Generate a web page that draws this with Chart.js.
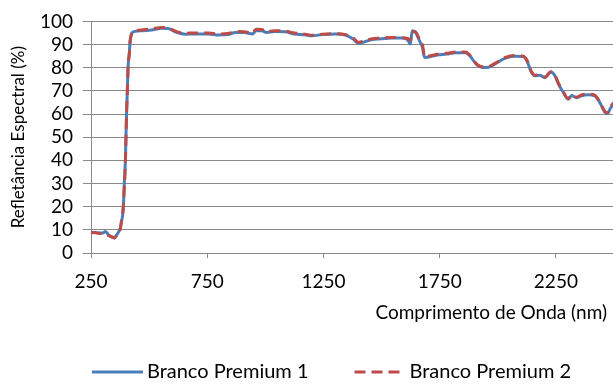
<!DOCTYPE html>
<html>
<head>
<meta charset="utf-8">
<script src="https://cdn.jsdelivr.net/npm/chart.js@4/dist/chart.umd.min.js"></script>
<style>
  html, body { margin: 0; padding: 0; overflow: hidden; background: #ffffff; }
  #wrap { width: 671px; height: 384px; }
</style>
</head>
<body>
<div id="wrap"><canvas id="chart" width="671" height="384"></canvas></div>
<script>
// Spectral reflectance of two white paint samples, 250–2500 nm
const wavelengths = [
  250, 265, 281, 300, 313, 325, 340, 350, 365, 375, 382, 389, 393, 398, 400, 403, 406, 410, 415, 418,
  425, 440, 475, 510, 555, 582, 618, 655, 700, 755, 800, 840, 870, 910, 945, 960, 985, 1005, 1040, 1085,
  1125, 1170, 1200, 1245, 1300, 1345, 1378, 1400, 1420, 1455, 1500, 1545, 1585, 1612, 1624, 1632, 1645, 1664, 1676, 1685,
  1700, 1740, 1780, 1820, 1860, 1880, 1910, 1935, 1960, 1990, 2030, 2070, 2110, 2125, 2145, 2160, 2180, 2203, 2228, 2246,
  2262, 2282, 2303, 2318, 2338, 2360, 2388, 2417, 2440, 2460, 2472, 2485, 2500
];
const premium1 = [
  8.9, 8.8, 8.7, 8.6, 9.3, 7.8, 6.8, 6.8, 8.5, 10.4, 13.8, 19.4, 29.2, 40.4, 48.8, 60.0, 69.7, 80.9, 86.5, 91.4,
  94.9, 95.7, 96.0, 96.3, 97.0, 96.9, 95.3, 94.5, 94.6, 94.6, 94.1, 94.3, 95.2, 95.2, 94.6, 96.0, 96.0, 95.2, 95.6, 95.5,
  94.6, 94.2, 93.8, 94.3, 94.6, 94.1, 92.4, 90.6, 91.0, 92.1, 92.5, 92.8, 92.8, 92.1, 90.2, 96.0, 95.4, 91.5, 88.8, 84.4,
  84.6, 85.5, 85.9, 86.5, 86.5, 85.1, 81.2, 80.1, 80.2, 81.7, 84.0, 85.0, 84.8, 83.0, 78.0, 76.5, 76.7, 75.7, 78.1, 76.5,
  72.8, 69.3, 66.4, 68.0, 67.0, 67.9, 68.3, 67.9, 64.8, 60.9, 60.2, 62.6, 64.5
];
const premium2 = [
  8.6, 8.9, 8.5, 8.3, 8.1, 7.6, 7.0, 6.4, 8.3, 10.0, 14.5, 20.0, 28.0, 39.0, 47.0, 60.5, 68.0, 81.5, 86.0, 91.0,
  94.5, 95.8, 96.4, 96.8, 97.4, 97.1, 95.6, 94.9, 95.0, 95.0, 94.6, 94.8, 95.6, 95.5, 95.0, 96.6, 96.5, 95.6, 96.0, 95.8,
  95.0, 94.5, 94.0, 94.5, 94.7, 94.3, 92.8, 91.0, 91.5, 92.4, 92.8, 93.1, 93.0, 92.6, 92.0, 95.5, 95.5, 92.0, 90.0, 84.6,
  84.9, 85.8, 86.2, 86.8, 86.8, 85.4, 81.5, 80.4, 80.5, 82.0, 84.3, 85.3, 85.0, 83.3, 78.3, 76.8, 76.9, 76.0, 78.3, 76.8,
  73.1, 69.5, 66.7, 68.3, 67.3, 68.2, 68.6, 68.2, 65.0, 61.2, 60.6, 63.2, 65.0
];
const seriesNames = ['Branco Premium 1', 'Branco Premium 2'];
const xTickValues = [250, 750, 1250, 1750, 2250];
const xTitle = 'Comprimento de Onda (nm)';
const yTitle = 'Refletância Espectral (%)';

const FONT_FAMILY = 'Lato, "Open Sans", sans-serif';
const FONT_SIZE = 19;
const LEGEND_FONT_SIZE = 20;
const TEXT_COLOR = '#000000';
const GRID_COLOR = '#8a8a8a';
const BLUE = '#4a7ebb';
const RED = '#be4b48';

const toPoints = values => wavelengths.map((w, i) => ({ x: w, y: values[i] }));

// Legend drawn as line samples followed by the series name, centred under the chart
const lineLegend = {
  id: 'lineLegend',
  afterDraw(chart) {
    const ctx = chart.ctx;
    const sample = 51, textGap = 4, itemGap = 46, y = 372;
    ctx.save();
    ctx.font = LEGEND_FONT_SIZE + 'px ' + FONT_FAMILY;
    const items = chart.data.datasets.map(ds => ({ ds, w: ctx.measureText(ds.label).width }));
    const total = items.reduce((s, it) => s + sample + textGap + it.w, 0) + itemGap * (items.length - 1);
    let x = chart.width / 2 - total / 2 - 4;
    items.forEach(({ ds, w }) => {
      ctx.beginPath();
      ctx.setLineDash(ds.borderDash || []);
      ctx.lineWidth = ds.borderWidth;
      ctx.strokeStyle = ds.borderColor;
      ctx.moveTo(x, y);
      ctx.lineTo(x + sample, y);
      ctx.stroke();
      ctx.setLineDash([]);
      ctx.fillStyle = TEXT_COLOR;
      ctx.textAlign = 'left';
      ctx.textBaseline = 'middle';
      ctx.fillText(ds.label, x + sample + textGap, y);
      x += sample + textGap + w + itemGap;
    });
    ctx.restore();
  }
};

// X axis caption placed at the right end, below the tick labels
const xCaption = {
  id: 'xCaption',
  afterDraw(chart) {
    const ctx = chart.ctx;
    ctx.save();
    ctx.font = FONT_SIZE + 'px ' + FONT_FAMILY;
    ctx.fillStyle = TEXT_COLOR;
    ctx.textAlign = 'right';
    ctx.textBaseline = 'middle';
    ctx.fillText(xTitle, chart.chartArea.right - 7, 313);
    ctx.restore();
  }
};

new Chart(document.getElementById('chart'), {
  type: 'line',
  data: {
    datasets: [
      {
        label: seriesNames[0],
        data: toPoints(premium1),
        borderColor: BLUE,
        borderWidth: 3,
        pointRadius: 0,
        cubicInterpolationMode: 'monotone',
        order: 1
      },
      {
        label: seriesNames[1],
        data: toPoints(premium2),
        borderColor: RED,
        borderWidth: 3,
        borderDash: [11, 6],
        pointRadius: 0,
        cubicInterpolationMode: 'monotone',
        order: 0
      }
    ]
  },
  options: {
    responsive: false,
    animation: false,
    layout: { padding: { top: 14.5, right: 57, bottom: 50, left: 0 } },
    plugins: { legend: { display: false }, tooltip: { enabled: false } },
    scales: {
      x: {
        type: 'linear',
        min: 250,
        max: 2500,
        afterBuildTicks: scale => { scale.ticks = xTickValues.map(v => ({ value: v })); },
        afterFit: scale => { scale.height = 81; },
        grid: { drawOnChartArea: false, drawTicks: true, tickLength: 5, color: GRID_COLOR },
        border: { display: true, color: GRID_COLOR, width: 1 },
        ticks: {
          color: TEXT_COLOR,
          font: { family: FONT_FAMILY, size: FONT_SIZE },
          padding: 12,
          maxRotation: 0,
          autoSkip: false,
          callback: v => String(v)
        }
      },
      y: {
        min: 0,
        max: 100,
        afterFit: scale => { scale.width = 91; },
        grid: { drawOnChartArea: true, drawTicks: true, tickLength: 8, color: GRID_COLOR },
        border: { display: true, color: GRID_COLOR, width: 1 },
        ticks: {
          stepSize: 10,
          autoSkip: false,
          color: TEXT_COLOR,
          font: { family: FONT_FAMILY, size: FONT_SIZE },
          padding: 10,
          callback: v => String(v)
        },
        title: {
          display: true,
          text: yTitle,
          color: TEXT_COLOR,
          font: { family: FONT_FAMILY, size: 17 },
          padding: { top: 8, bottom: 0 }
        }
      }
    }
  },
  plugins: [lineLegend, xCaption]
});
</script>
</body>
</html>
